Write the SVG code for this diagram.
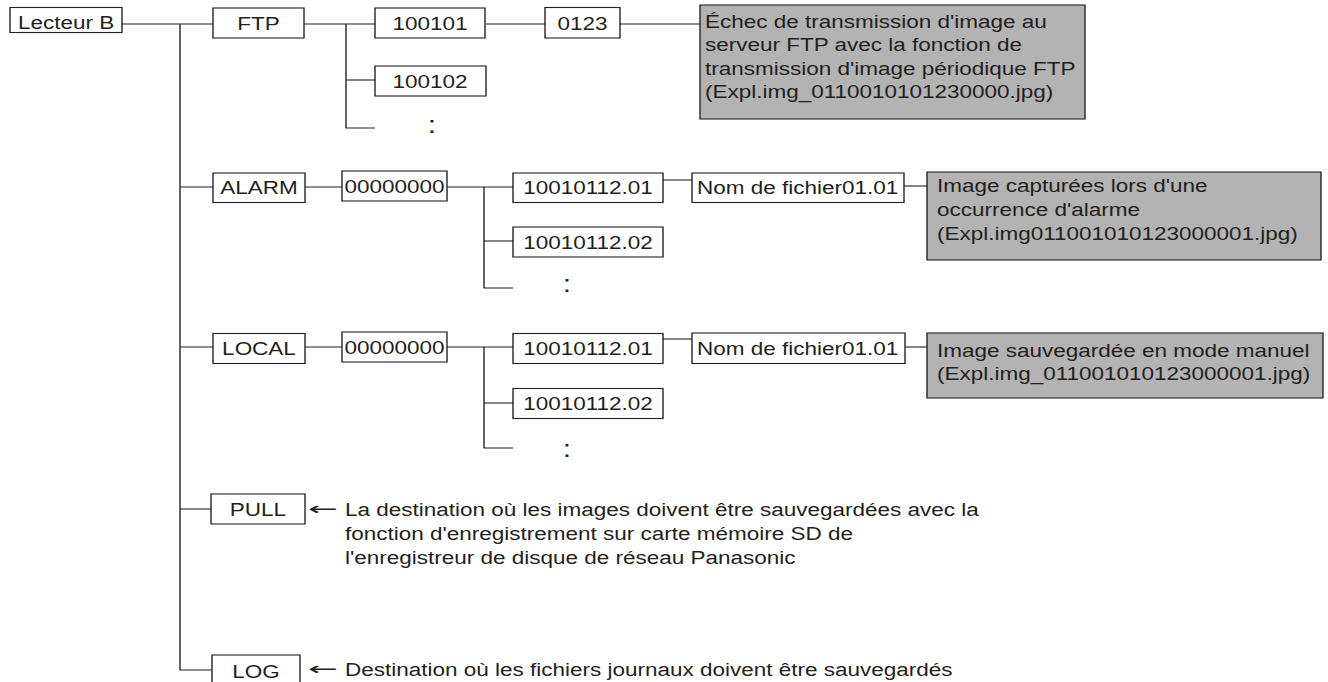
<svg xmlns="http://www.w3.org/2000/svg" width="1328" height="682" viewBox="0 0 1328 682">
<style>
.box{fill:#fff;stroke:#231f20;stroke-width:1.1}
.note{fill:#b3b3b3;stroke:#231f20;stroke-width:1.1}
.t{font-family:"Liberation Sans",Arial,Helvetica,sans-serif;font-size:18px;fill:#231f20}
.c{text-anchor:middle}
.dots{font-family:"Liberation Sans",Arial,Helvetica,sans-serif;font-size:24px;fill:#231f20;text-anchor:middle}
.arr{font-family:"DejaVu Sans",sans-serif;font-size:18px;fill:#231f20}
.ln{fill:none;stroke:#231f20;stroke-width:1.1}
</style>
<rect width="1328" height="682" fill="#fff"/>
<g transform="scale(1.25 1)">
<g id="connectors" class="ln">
<path d="M97.6 24H170.4"/>
<path d="M144 24V670H169.6"/>
<path d="M144 187H170.4"/>
<path d="M144 347H170.4"/>
<path d="M144 509H168.8"/>
<path d="M243.2 24H300"/>
<path d="M276.8 24V128H300"/>
<path d="M276.8 80H300"/>
<path d="M388 24H436"/>
<path d="M496 24H560"/>
<path d="M244 187H273.6"/>
<path d="M357.6 187H410.4"/>
<path d="M387.2 187V288H410.4"/>
<path d="M387.2 241H410.4"/>
<path d="M530.4 180H553.6"/>
<path d="M723.2 186H741.6"/>
<path d="M244 347H273.6"/>
<path d="M357.6 347H410.4"/>
<path d="M387.2 347V448H410.4"/>
<path d="M387.2 403H410.4"/>
<path d="M530.4 339H553.6"/>
<path d="M724 347H741.6"/>
</g>
<g id="lecteur-b"><rect class="box" x="8" y="7.5" width="89.6" height="25"/><text class="t" x="14.4" y="29">Lecteur B</text></g>
<g id="ftp"><rect class="box" x="170.4" y="8" width="72.8" height="30"/><text class="t c" x="206.8" y="30.5">FTP</text></g>
<g id="ftp-100101"><rect class="box" x="300" y="8" width="88" height="30"/><text class="t c" x="344" y="30.5">100101</text></g>
<g id="ftp-100102"><rect class="box" x="300" y="66" width="88.8" height="30"/><text class="t c" x="344" y="88">100102</text></g>
<g id="ftp-more"><text class="dots" x="345.6" y="133">:</text></g>
<g id="ftp-0123"><rect class="box" x="436" y="7.5" width="60" height="30.5"/><text class="t c" x="466" y="30.5">0123</text></g>
<g id="ftp-note"><rect class="note" x="560" y="5" width="308" height="114"/>
<text class="t" x="564" y="28">Échec de transmission d'image au</text>
<text class="t" x="564" y="51.5">serveur FTP avec la fonction de</text>
<text class="t" x="564" y="75">transmission d'image périodique FTP</text>
<text class="t" x="564" y="98.5">(Expl.img_0110010101230000.jpg)</text></g>

<g id="alarm"><rect class="box" x="170.4" y="173" width="73.6" height="29.5"/><text class="t c" x="207.2" y="194.5">ALARM</text></g>
<g id="alarm-00000000"><rect class="box" x="273.6" y="171" width="84" height="30"/><text class="t c" x="315.6" y="193">00000000</text></g>
<g id="alarm-01"><rect class="box" x="410.4" y="173" width="120" height="29.5"/><text class="t c" x="470.4" y="194.5">10010112.01</text></g>
<g id="alarm-02"><rect class="box" x="410.4" y="227" width="120" height="30"/><text class="t c" x="470.4" y="249">10010112.02</text></g>
<g id="alarm-more"><text class="dots" x="453.6" y="292">:</text></g>
<g id="alarm-file"><rect class="box" x="553.6" y="173" width="169.6" height="29.5"/><text class="t" x="557.6" y="194.5">Nom de fichier01.01</text></g>
<g id="alarm-note"><rect class="note" x="741.6" y="172" width="315.2" height="88"/>
<text class="t" x="749.6" y="192.5">Image capturées lors d'une</text>
<text class="t" x="749.6" y="216">occurrence d'alarme</text>
<text class="t" x="749.6" y="240">(Expl.img011001010123000001.jpg)</text></g>

<g id="local"><rect class="box" x="170.4" y="333.5" width="73.6" height="30"/><text class="t c" x="207.2" y="355">LOCAL</text></g>
<g id="local-00000000"><rect class="box" x="273.6" y="332" width="84" height="30"/><text class="t c" x="315.6" y="354">00000000</text></g>
<g id="local-01"><rect class="box" x="410.4" y="333.5" width="120" height="30"/><text class="t c" x="470.4" y="355">10010112.01</text></g>
<g id="local-02"><rect class="box" x="410.4" y="388.5" width="120" height="30"/><text class="t c" x="470.4" y="410">10010112.02</text></g>
<g id="local-more"><text class="dots" x="453.6" y="457">:</text></g>
<g id="local-file"><rect class="box" x="553.6" y="333" width="170.4" height="30.5"/><text class="t" x="557.6" y="355">Nom de fichier01.01</text></g>
<g id="local-note"><rect class="note" x="741.6" y="333" width="316.8" height="65"/>
<text class="t" x="749.6" y="357">Image sauvegardée en mode manuel</text>
<text class="t" x="749.6" y="380.5">(Expl.img_011001010123000001.jpg)</text></g>

<g id="pull"><rect class="box" x="168.8" y="494" width="75.2" height="30"/><text class="t c" x="206.4" y="516">PULL</text></g>
<g id="pull-note">
<text class="arr" x="246.4" y="515" textLength="24" lengthAdjust="spacingAndGlyphs">←</text>
<text class="t" x="276" y="516">La destination où les images doivent être sauvegardées avec la</text>
<text class="t" x="276" y="540">fonction d'enregistrement sur carte mémoire SD de</text>
<text class="t" x="276" y="564">l'enregistreur de disque de réseau Panasonic</text></g>

<g id="log"><rect class="box" x="169.6" y="655" width="70.4" height="35"/><text class="t c" x="204.8" y="678">LOG</text></g>
<g id="log-note">
<text class="arr" x="246.4" y="675" textLength="24" lengthAdjust="spacingAndGlyphs">←</text>
<text class="t" x="276" y="676">Destination où les fichiers journaux doivent être sauvegardés</text></g>
</g>
</svg>
